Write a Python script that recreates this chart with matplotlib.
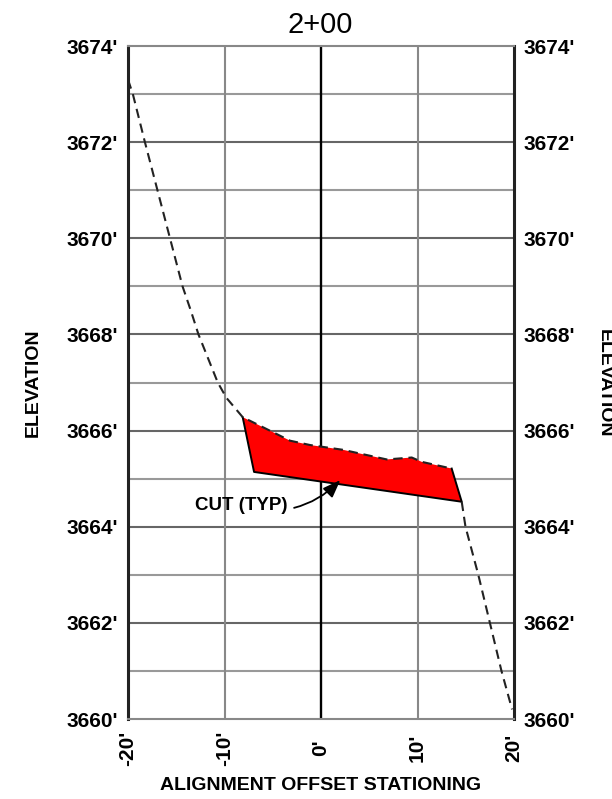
"""
Cross section 2+00 -- elevation vs alignment offset, cut area shaded red.
"""

import matplotlib.pyplot as plt

# ----------------------------------------------------------------- data
STATION = "2+00"
X_TICKS = [-20, -10, 0, 10, 20]
X_TICK_LABELS = ["-20'", "-10'", "0'", "10'", "20'"]
Y_TICKS = [3660, 3662, 3664, 3666, 3668, 3670, 3672, 3674]
Y_TICK_LABELS = [f"{v}'" for v in Y_TICKS]

# existing ground, left of the cut (offset ft, elevation ft)
ground_left_x = [-20.0, -19.5, -18.25, -16.95, -15.65, -14.35, -13.5, -12.7, -11.7, -10.7, -9.8, -8.12]
ground_left_y = [3673.3, 3673.0, 3672.0, 3671.0, 3670.0, 3669.0, 3668.5, 3668.0, 3667.5, 3667.0, 3666.68, 3666.28]

# existing ground across the top of the cut
cut_top_x = [-8.12, -3.21, -1.14, 2.28, 6.81, 9.40, 10.43, 13.54]
cut_top_y = [3666.28, 3665.79, 3665.70, 3665.60, 3665.40, 3665.44, 3665.35, 3665.21]

# finished section: right side, bottom, left side of the cut
cut_bottom_x = [13.54, 14.58, -6.94, -8.12]
cut_bottom_y = [3665.21, 3664.52, 3665.14, 3666.28]

# existing ground, right of the cut
ground_right_x = [14.58, 14.97, 16.3, 17.5, 18.7, 19.8]
ground_right_y = [3664.52, 3664.0, 3663.0, 3662.0, 3661.0, 3660.2]

CUT_LABEL = "CUT (TYP)"
cut_label_xy = (-3.5, 3664.44)
cut_arrow_tip = (2.0, 3664.97)

# ----------------------------------------------------------------- figure
plt.rcParams["font.family"] = ["Liberation Sans", "DejaVu Sans"]

fig = plt.figure(figsize=(6.12, 7.99), dpi=100)
ax = fig.add_axes([0.2092, 0.1001, 0.6307, 0.8423])
ax.set_xlim(-20, 20)
ax.set_ylim(3660, 3674)

# grid: every foot of elevation, every 10' of offset
for e in range(3661, 3674):
    ax.axhline(e, color="#666666" if e % 2 == 0 else "#999999", lw=1.5, zorder=1)
for x in (-10, 10):
    ax.axvline(x, color="#888888", lw=1.5, zorder=1)
ax.axvline(0, color="black", lw=1.7, zorder=1)

for side in ("top", "bottom"):
    ax.spines[side].set_color("#888888")
    ax.spines[side].set_linewidth(1.5)
for side in ("left", "right"):
    ax.spines[side].set_color("#222222")
    ax.spines[side].set_linewidth(2.2)

# cut area
ax.fill(cut_top_x + cut_bottom_x, cut_top_y + cut_bottom_y,
        color="#ff0000", lw=0, zorder=2)
ax.plot(cut_bottom_x, cut_bottom_y, color="black", lw=1.4, zorder=3)

dash = (0, (4.5, 2.8))
ax.plot(ground_left_x + cut_top_x[1:], ground_left_y + cut_top_y[1:],
        color="#222222", lw=1.5, ls=dash, zorder=3)
ax.plot(ground_right_x, ground_right_y, color="#222222", lw=1.5, ls=dash, zorder=3)

ax.annotate(CUT_LABEL, xy=cut_arrow_tip, xytext=cut_label_xy,
            ha="right", va="center", fontsize=13.5, fontweight="bold",
            arrowprops=dict(arrowstyle="-|>,head_length=0.8,head_width=0.3",
                            color="black", lw=1.3,
                            connectionstyle="arc3,rad=0.3",
                            shrinkA=3, shrinkB=0),
            zorder=4)

# ticks
ax.set_xticks(X_TICKS)
ax.set_xticklabels(X_TICK_LABELS, rotation=90, va="center",
                   fontsize=15, fontweight="bold")
ax.set_yticks(Y_TICKS)
ax.set_yticklabels(Y_TICK_LABELS, fontsize=15, fontweight="bold")
ax.tick_params(axis="x", length=0, pad=21)
ax.tick_params(axis="y", length=0, pad=7, labelright=True)

fig.text(0.5236, 0.9687, STATION, ha="center", va="center", fontsize=21)
fig.text(0.5236, 0.0175, "ALIGNMENT OFFSET STATIONING", ha="center",
         va="center", fontsize=14, fontweight="bold")
fig.text(0.054, 0.5207, "ELEVATION", rotation=90, ha="center", va="center",
         fontsize=14, fontweight="bold")
fig.text(0.988, 0.5207, "ELEVATION", rotation=270, ha="center", va="center",
         fontsize=14, fontweight="bold")

fig.savefig("out.png", dpi=100)
